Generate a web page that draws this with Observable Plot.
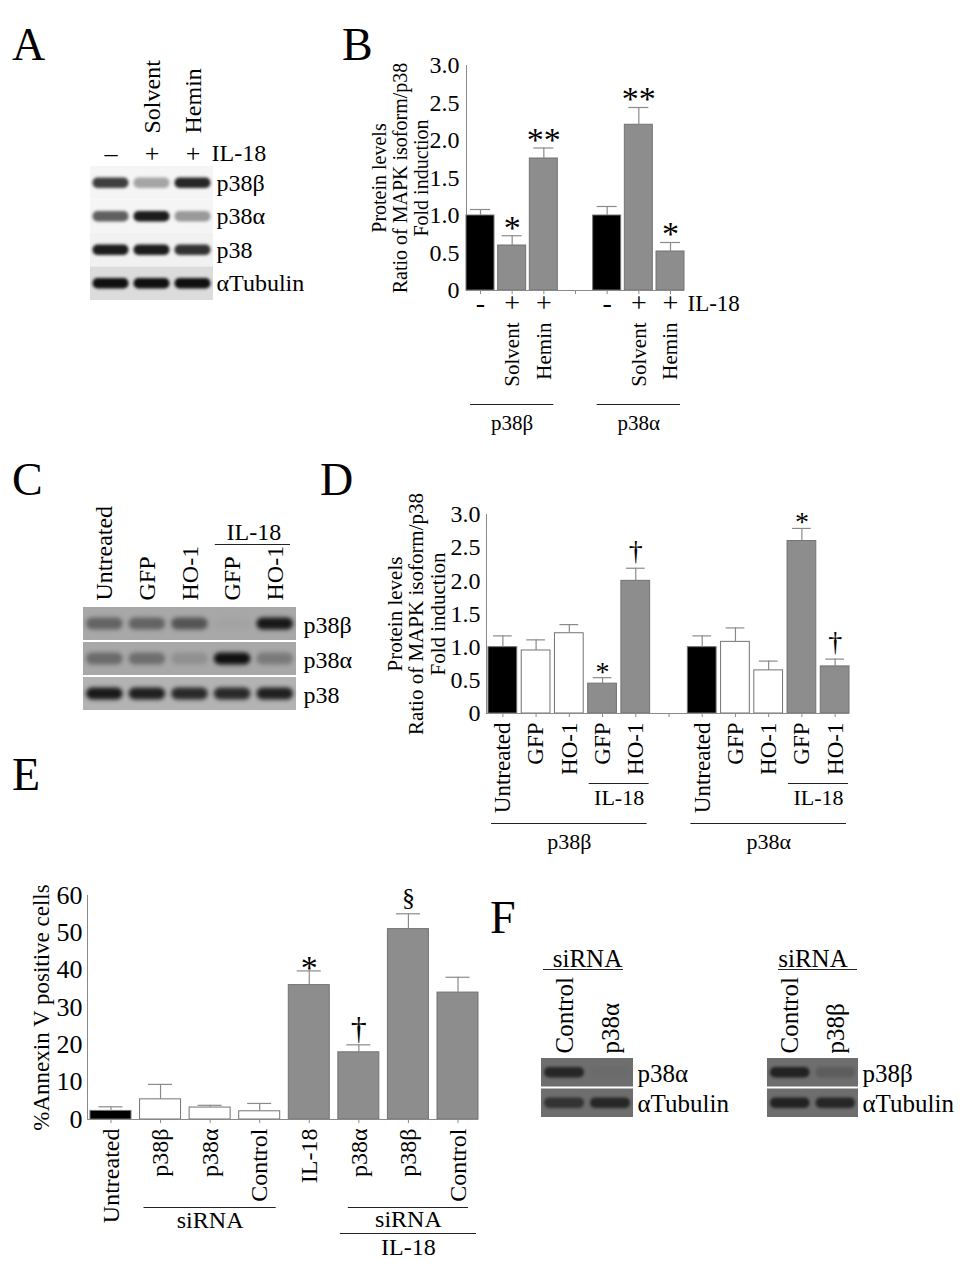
<!DOCTYPE html>
<html>
<head>
<meta charset="utf-8">
<script src="https://cdn.jsdelivr.net/npm/d3@7"></script>
<script src="https://cdn.jsdelivr.net/npm/@observablehq/plot@0.6"></script>
<style>
  html, body { margin: 0; padding: 0; background: #fff; }
  #fig { position: relative; width: 978px; height: 1270px; overflow: hidden;
         font-family: "Liberation Serif", "Times New Roman", serif; color: #000; }
  .panel { position: absolute; }
  .panel svg { overflow: visible; display: block; }
  .letter { position: absolute; font-size: 46px; line-height: 1; }
</style>
</head>
<body>
<div id="fig"></div>
<script>
const FONT = '"Liberation Serif", "Times New Roman", serif';

// ================= DATA =================
// Panel A – western blot (relative band intensity 0..1)
const aHeaders = ["", "Solvent", "Hemin"];
const aIL18 = ["–", "+", "+"];
const aRows = ["p38β", "p38α", "p38", "αTubulin"];
const aBands = [
  [0.80, 0.35, 0.90],
  [0.65, 0.95, 0.40],
  [0.95, 0.95, 0.85],
  [1.00, 1.00, 1.00]
];

// Panel B – fold induction
const bIL18 = ["-", "+", "+", "-", "+", "+"];
const bAgents = ["", "Solvent", "Hemin", "", "Solvent", "Hemin"];
const bIsoforms = ["p38β", "p38α"];
const bMean = [1.00, 0.60, 1.76, 1.00, 2.21, 0.52];
const bSem  = [0.08, 0.13, 0.14, 0.12, 0.23, 0.12];
const bSig  = ["", "*", "**", "", "**", "*"];
const bKind = ["control", "il18", "il18", "control", "il18", "il18"];
const bTicks = [0, 0.5, 1, 1.5, 2, 2.5, 3];

// Panel C – western blot
const cHeaders = ["Untreated", "GFP", "HO-1", "GFP", "HO-1"];
const cRows = ["p38β", "p38α", "p38"];
const cBands = [
  [0.45, 0.45, 0.55, 0.03, 0.95],
  [0.40, 0.38, 0.15, 1.00, 0.30],
  [0.95, 0.90, 0.85, 0.85, 0.90]
];

// Panel D – fold induction
const dLabels = ["Untreated", "GFP", "HO-1", "GFP", "HO-1", "Untreated", "GFP", "HO-1", "GFP", "HO-1"];
const dIsoforms = ["p38β", "p38α"];
const dMean = [1.00, 0.95, 1.21, 0.45, 2.00, 1.00, 1.08, 0.65, 2.60, 0.71];
const dSem  = [0.17, 0.16, 0.13, 0.09, 0.19, 0.17, 0.21, 0.14, 0.19, 0.11];
const dSig  = ["", "", "", "*", "†", "", "", "", "*", "†"];
const dKind = ["control", "vector", "vector", "il18", "il18", "control", "vector", "vector", "il18", "il18"];
const dTicks = [0, 0.5, 1, 1.5, 2, 2.5, 3];

// Panel E – % Annexin V positive cells
const eLabels = ["Untreated", "p38β", "p38α", "Control", "IL-18", "p38α", "p38β", "Control"];
const eMean = [2.3, 5.4, 3.2, 2.2, 36.0, 18.0, 51.0, 34.0];
const eSem  = [1.1, 4.0, 0.6, 2.1, 3.8, 2.0, 4.1, 4.1];
const eSig  = ["", "", "", "", "*", "†", "§", ""];
const eKind = ["control", "vector", "vector", "vector", "il18", "il18", "il18", "il18"];
const eTicks = [0, 10, 20, 30, 40, 50, 60];

// Panel F – siRNA knock-down blots
const fLeftHeaders = ["Control", "p38α"];
const fLeftRows = ["p38α", "αTubulin"];
const fLeftBands = [[0.85, 0.03], [0.70, 0.85]];
const fRightHeaders = ["Control", "p38β"];
const fRightRows = ["p38β", "αTubulin"];
const fRightBands = [[0.90, 0.20], [0.90, 0.85]];

// ================= STYLE =================
const KIND_COLORS = {control: "#000000", vector: "#ffffff", il18: "#8d8d8d"};
const AXIS_GREY = "#8a8a8a";

// ================= HELPERS =================
const fig = document.getElementById("fig");
function place(node, left, top) {
  const d = document.createElement("div");
  d.className = "panel";
  d.style.left = left + "px";
  d.style.top = top + "px";
  d.appendChild(node);
  fig.appendChild(d);
}
function letter(t, left, baseline) {
  const d = document.createElement("div");
  d.className = "letter";
  d.textContent = t;
  d.style.left = left + "px";
  d.style.top = (baseline - 38.5) + "px";
  fig.appendChild(d);
}

function blot(o) {
  const nL = o.headers.length, nR = o.rows.length;
  const rowData = o.rows.map((name, r) => ({r, name}));
  const laneData = o.headers.map((head, l) => ({l, head, sign: o.signs ? o.signs[l] : ""}));
  const cells = o.bands.flatMap((row, r) => row.map((v, l) => ({r, l, v})));
  const marks = [
    Plot.rect(rowData, {x1: -0.5, x2: nL - 0.5, y1: d => d.r - 0.5, y2: d => d.r + 0.5,
      fill: d => o.bg[d.r], insetBottom: o.sep}),
    Plot.rect(cells, {x1: d => d.l - 0.5, x2: d => d.l + 0.5, y1: d => d.r - 0.5, y2: d => d.r + 0.5,
      insetLeft: o.bandInsetX, insetRight: o.bandInsetX, insetTop: o.bandInsetY, insetBottom: o.bandInsetY + o.sep,
      rx: o.bandRx, fill: o.bandColor, fillOpacity: "v"}),
    Plot.text(rowData, {y: "r", text: "name", frameAnchor: "right", textAnchor: "start", lineAnchor: "middle",
      dx: o.labelDx, fontSize: o.font}),
    Plot.text(laneData.filter(d => d.head), {x: "l", text: "head", frameAnchor: "top", rotate: -90,
      textAnchor: "start", lineAnchor: "middle", dy: o.headDy, fontSize: o.font})
  ];
  if (o.signs) {
    marks.push(
      Plot.text(laneData, {x: "l", text: "sign", frameAnchor: "top", lineAnchor: "middle", dy: o.signDy, fontSize: o.signFont}),
      Plot.text([o.signTail], {x: nL - 0.5, text: d => d, frameAnchor: "top", textAnchor: "start", lineAnchor: "middle",
        dx: o.signTailDx, dy: o.signDy, fontSize: o.font})
    );
  }
  if (o.group) {
    const g = o.group;
    marks.push(
      Plot.ruleY([g], {y: -0.5, x1: d => d.from - 0.5, x2: d => d.to + 0.5, dy: g.lineDy,
        insetLeft: g.insetLeft, insetRight: g.insetRight, stroke: "#222", strokeWidth: 1.2}),
      Plot.text([g], {x: d => (d.from + d.to) / 2, y: -0.5, text: "label", dy: g.textDy, lineAnchor: "middle", fontSize: o.font})
    );
  }
  const svg = Plot.plot({
    width: o.width, height: o.height,
    marginLeft: o.m[3], marginRight: o.m[1], marginTop: o.m[0], marginBottom: o.m[2],
    x: {domain: [-0.5, nL - 0.5], axis: null},
    y: {domain: [nR - 0.5, -0.5], axis: null},
    color: {type: "identity"},
    opacity: {type: "identity"},
    style: {fontFamily: FONT, fontSize: o.font + "px", color: "#000", background: "transparent", overflow: "visible"},
    marks
  });
  const groups = svg.querySelectorAll('g[aria-label="rect"]');
  if (groups[1]) groups[1].style.filter = `blur(${o.blur}px)`;
  return svg;
}

function barChart(o) {
  const W = o.barFrac, per = o.perGroup;
  const data = o.mean.map((v, i) => ({
    slot: Math.floor(i / per) * (per + 1) + (i % per),
    value: v, sem: o.sem[i], kind: o.kind[i], sig: o.sig[i],
    label: o.labels[i], sign: o.signs ? o.signs[i] : ""
  }));
  const nSlots = d3.max(data, d => d.slot) + 1;
  const xMin = -o.lead, xMax = nSlots - 1 + W;
  const mid = d => d.slot + W / 2;
  const top = d => d.value + d.sem;
  const marks = [
    Plot.ruleX([xMin], {y1: 0, y2: o.yMax, stroke: AXIS_GREY}),
    Plot.axisY(o.ticks, {tickSize: 0, tickPadding: o.tickPad, fontSize: o.tickFont, tickFormat: o.tickFormat, label: null}),
    Plot.axisX(d3.range(nSlots).map(s => s + W / 2), {tickSize: 4, tickFormat: () => "", label: null, stroke: AXIS_GREY}),
    Plot.rect(data, {x1: "slot", x2: d => d.slot + W, y1: 0, y2: "value", fill: "kind", stroke: "#737373", strokeWidth: 1}),
    Plot.ruleY([0], {x1: xMin, x2: xMax, stroke: AXIS_GREY}),
    Plot.ruleX(data, {x: mid, y1: "value", y2: top, stroke: AXIS_GREY, strokeWidth: 1.2}),
    Plot.ruleY(data, {y: top, x1: "slot", x2: d => d.slot + W, insetLeft: o.capInset, insetRight: o.capInset,
      stroke: AXIS_GREY, strokeWidth: 1.2}),
    Plot.text([o.yTitle], {text: d => d, frameAnchor: "left", rotate: -90, textAnchor: "middle", lineAnchor: "middle",
      dx: o.titleDx, fontSize: o.titleFont, lineHeight: o.titleLH}),
    Plot.text(data.filter(d => d.label), {x: mid, text: "label", frameAnchor: "bottom", rotate: -90,
      textAnchor: "end", lineAnchor: "middle", dy: o.labelDy, fontSize: o.labelFont})
  ];
  for (const [sym, st] of Object.entries(o.sigStyle)) {
    marks.push(Plot.text(data.filter(d => d.sig === sym), {x: mid, y: top, text: "sig", lineAnchor: "middle",
      dy: st.dy, fontSize: st.fontSize}));
  }
  if (o.signs) {
    marks.push(
      Plot.text(data, {x: mid, text: "sign", frameAnchor: "bottom", lineAnchor: "middle", dy: o.signDy, fontSize: o.signFont}),
      Plot.text([o.signTail], {x: xMax, text: d => d, frameAnchor: "bottom", textAnchor: "start", lineAnchor: "middle",
        dx: 3, dy: o.signDy, fontSize: o.labelFont + 2})
    );
  }
  for (const g of o.groups) {
    marks.push(
      Plot.ruleY([g], {y: 0, x1: d => d.from, x2: d => d.to + W, dy: g.lineDy,
        insetLeft: g.inset, insetRight: g.inset, stroke: "#222", strokeWidth: 1.2}),
      Plot.text([g], {x: d => (d.from + d.to + W) / 2, y: 0, text: "label", dy: g.textDy,
        lineAnchor: "middle", fontSize: o.groupFont})
    );
  }
  return Plot.plot({
    width: o.width, height: o.height,
    marginLeft: o.m[3], marginRight: o.m[1], marginTop: o.m[0], marginBottom: o.m[2],
    x: {domain: [xMin, xMax]},
    y: {domain: [0, o.yMax]},
    color: {domain: Object.keys(KIND_COLORS), range: Object.values(KIND_COLORS)},
    style: {fontFamily: FONT, fontSize: o.tickFont + "px", color: "#000", background: "transparent", overflow: "visible"},
    marks
  });
}

const fold = d => d === 0 ? "0" : d.toFixed(1);
const foldTitle = "Protein levels\nRatio of MAPK isoform/p38\nFold induction";

try {
  // ---- Panel A ----
  place(blot({
    headers: aHeaders, rows: aRows, bands: aBands, signs: aIL18, signTail: "IL-18",
    width: 340, height: 310, m: [166, 127, 10, 90],
    bg: ["#f5f5f5", "#f5f5f5", "#f1f1f1", "#dcdcdc"], sep: 0,
    bandInsetX: 2.5, bandInsetY: 11.5, bandRx: 5, bandColor: "#101010", blur: 1.5,
    font: 24, signFont: 26, labelDx: 3, headDy: -33, signDy: -13, signTailDx: -2
  }), 0, 0);

  // ---- Panel B ----
  place(barChart({
    mean: bMean, sem: bSem, kind: bKind, sig: bSig, labels: bAgents, signs: bIL18, signTail: "IL-18",
    perGroup: 3, barFrac: 0.884, lead: 0, yMax: 3, ticks: bTicks, tickFormat: fold,
    width: 420, height: 400, m: [25, 76, 150, 126],
    tickFont: 24, tickPad: 7, capInset: 4,
    yTitle: foldTitle, titleDx: -66, titleFont: 20, titleLH: 1.05,
    labelFont: 21, labelDy: 32, signFont: 28, signDy: 13,
    sigStyle: {"*": {fontSize: 34, dy: -8}, "**": {fontSize: 34, dy: -8}},
    groupFont: 21,
    groups: [
      {from: 0, to: 2, label: bIsoforms[0], lineDy: 114, textDy: 133, inset: 4},
      {from: 4, to: 6, label: bIsoforms[1], lineDy: 114, textDy: 133, inset: 4}
    ]
  }), 340, 40);

  // ---- Panel C ----
  place(blot({
    headers: cHeaders, rows: cRows, bands: cBands,
    group: {label: "IL-18", from: 3, to: 4, lineDy: -63, textDy: -75, insetLeft: 4, insetRight: 6},
    width: 340, height: 280, m: [157, 44, 18, 83],
    bg: ["#a8a8a8", "#a8a8a8", "#b3b3b3"], sep: 2,
    bandInsetX: 3, bandInsetY: 10.5, bandRx: 6, bandColor: "#101010", blur: 2,
    font: 24, labelDx: 7, headDy: -7
  }), 0, 450);

  // ---- Panel D ----
  place(barChart({
    mean: dMean, sem: dSem, kind: dKind, sig: dSig, labels: dLabels,
    perGroup: 5, barFrac: 0.865, lead: 0.06, yMax: 3, ticks: dTicks, tickFormat: fold,
    width: 530, height: 400, m: [44, 21, 157, 146],
    tickFont: 24, tickPad: 6, capInset: 5,
    yTitle: foldTitle, titleDx: -70, titleFont: 21, titleLH: 1.03,
    labelFont: 23, labelDy: 9,
    sigStyle: {"*": {fontSize: 28, dy: -6}, "†": {fontSize: 28, dy: -17}},
    groupFont: 22,
    groups: [
      {from: 3, to: 4, label: "IL-18", lineDy: 70, textDy: 84, inset: 1},
      {from: 9, to: 10, label: "IL-18", lineDy: 70, textDy: 84, inset: 1},
      {from: 0, to: 4, label: dIsoforms[0], lineDy: 110, textDy: 128, inset: 3},
      {from: 6, to: 10, label: dIsoforms[1], lineDy: 110, textDy: 128, inset: 3}
    ]
  }), 340, 470);

  // ---- Panel E ----
  place(barChart({
    mean: eMean, sem: eSem, kind: eKind, sig: eSig, labels: eLabels,
    perGroup: 8, barFrac: 0.827, lead: 0.06, yMax: 60, ticks: eTicks, tickFormat: d3.format("d"),
    width: 490, height: 410, m: [35, 12, 151, 87],
    tickFont: 26, tickPad: 5, capInset: 8.5,
    yTitle: "%Annexin V positive cells", titleDx: -46, titleFont: 23, titleLH: 1,
    labelFont: 24, labelDy: 9,
    sigStyle: {"*": {fontSize: 34, dy: -3}, "†": {fontSize: 32, dy: -16}, "§": {fontSize: 26, dy: -16}},
    groupFont: 24,
    groups: [
      {from: 1, to: 3, label: "siRNA", lineDy: 88, textDy: 101, inset: 4},
      {from: 5, to: 7, label: "siRNA", lineDy: 88, textDy: 100, inset: 10},
      {from: 5, to: 7, label: "IL-18", lineDy: 114, textDy: 128, inset: 2}
    ]
  }), 0, 860);

  // ---- Panel F ----
  place(blot({
    headers: fLeftHeaders, rows: fLeftRows, bands: fLeftBands,
    group: {label: "siRNA", from: 0, to: 1, lineDy: -89, textDy: -100, insetLeft: 2, insetRight: 10},
    width: 250, height: 260, m: [178, 97, 21, 61],
    bg: ["#6e6e6e", "#6e6e6e"], sep: 2,
    bandInsetX: 3, bandInsetY: 9, bandRx: 5, bandColor: "#1a1a1a", blur: 1.5,
    font: 25, labelDx: 4, headDy: -5
  }), 480, 880);
  place(blot({
    headers: fRightHeaders, rows: fRightRows, bands: fRightBands,
    group: {label: "siRNA", from: 0, to: 1, lineDy: -89, textDy: -100, insetLeft: 11, insetRight: 1},
    width: 248, height: 260, m: [178, 120, 21, 37],
    bg: ["#6e6e6e", "#6e6e6e"], sep: 2,
    bandInsetX: 3, bandInsetY: 9, bandRx: 5, bandColor: "#1a1a1a", blur: 1.5,
    font: 25, labelDx: 4, headDy: -5
  }), 730, 880);

  // ---- panel letters ----
  letter("A", 12, 60);
  letter("B", 342, 60);
  letter("C", 12, 495);
  letter("D", 320, 495);
  letter("E", 12, 790);
  letter("F", 490, 933);
} catch (e) {
  const pre = document.createElement("pre");
  pre.textContent = e.stack || String(e);
  document.body.appendChild(pre);
}
</script>
</body>
</html>
